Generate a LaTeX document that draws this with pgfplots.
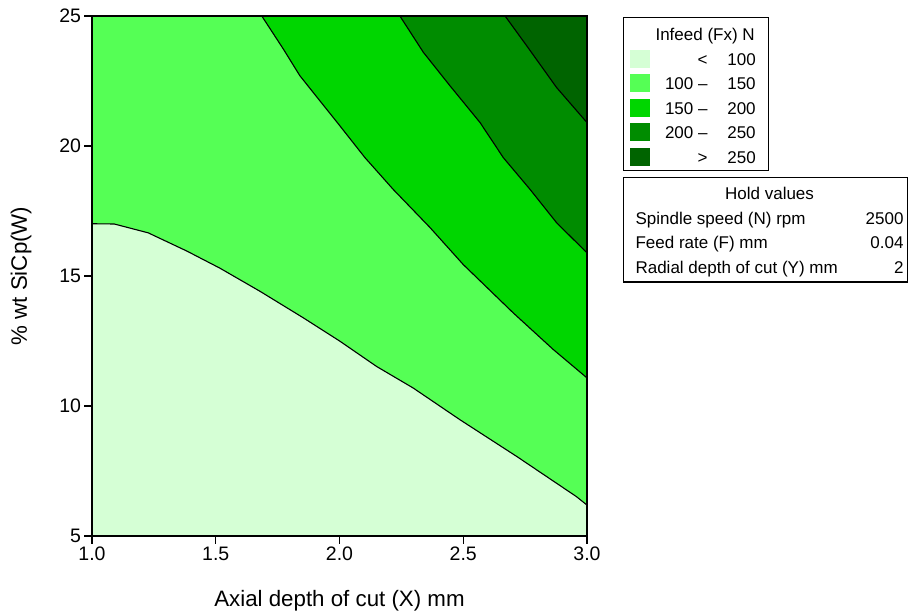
\documentclass[border=0pt]{standalone}
\usepackage{pgfplots}
\pgfplotsset{compat=1.18}
\usepackage{fontspec}
\setmainfont{Liberation Sans}
\definecolor{c1}{RGB}{213,255,213}
\definecolor{c2}{RGB}{85,255,85}
\definecolor{c3}{RGB}{0,214,0}
\definecolor{c4}{RGB}{0,140,0}
\definecolor{c5}{RGB}{0,100,0}
\newcommand{\tf}{\fontsize{19.5bp}{23bp}\selectfont}
\newcommand{\lf}{\fontsize{22.3bp}{26bp}\selectfont}
\newcommand{\sq}[1]{\textcolor{#1}{\rule[-2.7bp]{20bp}{18bp}}}
\begin{document}
\begin{tikzpicture}
\begin{axis}[name=ax,
 scale only axis, width=495bp, height=520bp,
 xmin=1, xmax=3, ymin=5, ymax=25,
 xtick={1,1.5,2,2.5,3}, ytick={5,10,15,20,25},
 tick pos=left, tick align=outside, major tick length=7.5bp,
 axis on top, axis line style={line width=1.6bp}, tick style={line width=1.4bp, black},
 x tick label style={/pgf/number format/.cd, fixed, fixed zerofill, precision=1, /tikz/.cd},
 /pgf/number format/assume math mode=true,
 ticklabel style={font=\tf},
 label style={font=\lf},
 xlabel={Axial depth of cut (X) mm},
 ylabel={\% wt SiCp(W)},
 xlabel style={at={(axis description cs:0.5,-0.1365)}, anchor=base},
 ylabel style={at={(axis description cs:-0.1434,0.5)}, anchor=center},
]
\addplot[fill=c1, draw=none, forget plot] coordinates {(1,5) (3,5) (3,25) (1,25)};
\addplot[fill=c2, draw=none, forget plot] coordinates {
(1.0,17.01) (1.09,17.0) (1.227,16.66) (1.383,15.96) (1.517,15.3) (1.679,14.41) (1.854,13.39)
(2.002,12.49) (2.150,11.52) (2.298,10.69) (2.487,9.47) (2.716,8.06) (2.958,6.51) (3.0,6.19)
(3,25) (1,25)};
\addplot[fill=c3, draw=none, forget plot] coordinates {
(1.686,25) (1.773,23.73) (1.84,22.70) (2.002,20.77) (2.103,19.55) (2.217,18.33) (2.366,16.86)
(2.50,15.44) (2.702,13.58) (2.864,12.17) (3.0,11.08) (3,25)};
\addplot[fill=c4, draw=none, forget plot] coordinates {
(2.244,25) (2.339,23.6) (2.446,22.32) (2.568,20.90) (2.662,19.55) (2.77,18.33) (2.877,17.05) (3.0,15.89) (3,25)};
\addplot[fill=c5, draw=none, forget plot] coordinates {
(2.669,25) (2.756,23.86) (2.877,22.25) (3.0,20.9) (3,25)};
\addplot[black, line width=1.1bp, forget plot] coordinates {
(1.0,17.01) (1.09,17.0) (1.227,16.66) (1.383,15.96) (1.517,15.3) (1.679,14.41) (1.854,13.39)
(2.002,12.49) (2.150,11.52) (2.298,10.69) (2.487,9.47) (2.716,8.06) (2.958,6.51) (3.0,6.19)};
\addplot[black, line width=1.1bp, forget plot] coordinates {
(1.686,25) (1.773,23.73) (1.84,22.70) (2.002,20.77) (2.103,19.55) (2.217,18.33) (2.366,16.86)
(2.50,15.44) (2.702,13.58) (2.864,12.17) (3.0,11.08)};
\addplot[black, line width=1.1bp, forget plot] coordinates {
(2.244,25) (2.339,23.6) (2.446,22.32) (2.568,20.90) (2.662,19.55) (2.77,18.33) (2.877,17.05) (3.0,15.89)};
\addplot[black, line width=1.1bp, forget plot] coordinates {
(2.669,25) (2.756,23.86) (2.877,22.25) (3.0,20.9)};
\end{axis}
\node[draw, line width=1.1bp, anchor=north west, inner sep=0pt, font=\fontsize{17bp}{24.5bp}\selectfont]
 at ([xshift=36bp,yshift=-1bp]ax.north east)
 {\begin{tabular}{@{\hspace{6bp}}c@{}r@{}r@{\hspace{13bp}}}
 \rule{0pt}{23bp} & \multicolumn{2}{r@{\hspace{14bp}}}{Infeed (Fx) N}\\
 \sq{c1} & \makebox[58bp][r]{<} & \makebox[47bp][r]{100}\\
 \sq{c2} & \makebox[58bp][r]{100 –} & \makebox[47bp][r]{150}\\
 \sq{c3} & \makebox[58bp][r]{150 –} & \makebox[47bp][r]{200}\\
 \sq{c4} & \makebox[58bp][r]{200 –} & \makebox[47bp][r]{250}\\
 \sq{c5} & \makebox[58bp][r]{>} & \makebox[47bp][r]{250}
 \end{tabular}};
\node[draw, line width=1.1bp, anchor=north west, inner sep=0pt, font=\fontsize{17bp}{24.5bp}\selectfont]
 at ([xshift=36bp,yshift=-161bp]ax.north east)
 {\begin{tabular*}{284bp}{@{\hspace{12bp}\extracolsep{\fill}}l r@{\hspace{4bp}}}
 \multicolumn{2}{@{\hspace{12bp}}c@{\hspace{4bp}}}{\rule{0pt}{22bp}Hold values}\\
 Spindle speed (N) rpm & 2500\\
 Feed rate (F) mm & 0.04\\
 Radial depth of cut (Y) mm & 2\rule[-9bp]{0pt}{9bp}
 \end{tabular*}};
\pgfresetboundingbox
\path[use as bounding box] ([xshift=-92bp,yshift=-78bp]ax.south west) rectangle ([xshift=322bp,yshift=16bp]ax.north east);
\end{tikzpicture}
\end{document}
